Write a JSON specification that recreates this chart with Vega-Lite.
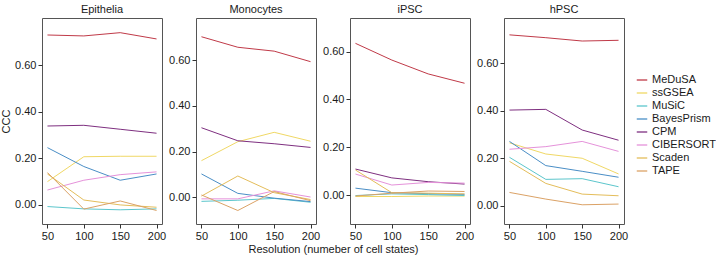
{
  "$schema": "https://vega.github.io/schema/vega-lite/v6.json",
  "padding": {"left": 0, "top": 2, "right": 0, "bottom": 0},
  "datasets": {
    "strips": [{"panel": "Epithelia"}, {"panel": "Monocytes"}, {"panel": "iPSC"}, {"panel": "hPSC"}],
    "ccc": [
      {"panel": "Epithelia", "method": "MeDuSA", "resolution": 50, "ccc": 0.730},
      {"panel": "Epithelia", "method": "MeDuSA", "resolution": 100, "ccc": 0.726},
      {"panel": "Epithelia", "method": "MeDuSA", "resolution": 150, "ccc": 0.740},
      {"panel": "Epithelia", "method": "MeDuSA", "resolution": 200, "ccc": 0.713},
      {"panel": "Epithelia", "method": "ssGSEA", "resolution": 50, "ccc": 0.100},
      {"panel": "Epithelia", "method": "ssGSEA", "resolution": 100, "ccc": 0.207},
      {"panel": "Epithelia", "method": "ssGSEA", "resolution": 150, "ccc": 0.209},
      {"panel": "Epithelia", "method": "ssGSEA", "resolution": 200, "ccc": 0.209},
      {"panel": "Epithelia", "method": "MuSiC", "resolution": 50, "ccc": -0.007},
      {"panel": "Epithelia", "method": "MuSiC", "resolution": 100, "ccc": -0.017},
      {"panel": "Epithelia", "method": "MuSiC", "resolution": 150, "ccc": -0.021},
      {"panel": "Epithelia", "method": "MuSiC", "resolution": 200, "ccc": -0.017},
      {"panel": "Epithelia", "method": "BayesPrism", "resolution": 50, "ccc": 0.246},
      {"panel": "Epithelia", "method": "BayesPrism", "resolution": 100, "ccc": 0.165},
      {"panel": "Epithelia", "method": "BayesPrism", "resolution": 150, "ccc": 0.106},
      {"panel": "Epithelia", "method": "BayesPrism", "resolution": 200, "ccc": 0.133},
      {"panel": "Epithelia", "method": "CPM", "resolution": 50, "ccc": 0.339},
      {"panel": "Epithelia", "method": "CPM", "resolution": 100, "ccc": 0.342},
      {"panel": "Epithelia", "method": "CPM", "resolution": 150, "ccc": 0.325},
      {"panel": "Epithelia", "method": "CPM", "resolution": 200, "ccc": 0.308},
      {"panel": "Epithelia", "method": "CIBERSORT", "resolution": 50, "ccc": 0.064},
      {"panel": "Epithelia", "method": "CIBERSORT", "resolution": 100, "ccc": 0.106},
      {"panel": "Epithelia", "method": "CIBERSORT", "resolution": 150, "ccc": 0.130},
      {"panel": "Epithelia", "method": "CIBERSORT", "resolution": 200, "ccc": 0.142},
      {"panel": "Epithelia", "method": "Scaden", "resolution": 50, "ccc": 0.133},
      {"panel": "Epithelia", "method": "Scaden", "resolution": 100, "ccc": 0.021},
      {"panel": "Epithelia", "method": "Scaden", "resolution": 150, "ccc": 0.000},
      {"panel": "Epithelia", "method": "Scaden", "resolution": 200, "ccc": -0.010},
      {"panel": "Epithelia", "method": "TAPE", "resolution": 50, "ccc": 0.139},
      {"panel": "Epithelia", "method": "TAPE", "resolution": 100, "ccc": -0.018},
      {"panel": "Epithelia", "method": "TAPE", "resolution": 150, "ccc": 0.017},
      {"panel": "Epithelia", "method": "TAPE", "resolution": 200, "ccc": -0.024},
      {"panel": "Monocytes", "method": "MeDuSA", "resolution": 50, "ccc": 0.702},
      {"panel": "Monocytes", "method": "MeDuSA", "resolution": 100, "ccc": 0.656},
      {"panel": "Monocytes", "method": "MeDuSA", "resolution": 150, "ccc": 0.639},
      {"panel": "Monocytes", "method": "MeDuSA", "resolution": 200, "ccc": 0.593},
      {"panel": "Monocytes", "method": "ssGSEA", "resolution": 50, "ccc": 0.160},
      {"panel": "Monocytes", "method": "ssGSEA", "resolution": 100, "ccc": 0.243},
      {"panel": "Monocytes", "method": "ssGSEA", "resolution": 150, "ccc": 0.284},
      {"panel": "Monocytes", "method": "ssGSEA", "resolution": 200, "ccc": 0.245},
      {"panel": "Monocytes", "method": "MuSiC", "resolution": 50, "ccc": -0.018},
      {"panel": "Monocytes", "method": "MuSiC", "resolution": 100, "ccc": -0.013},
      {"panel": "Monocytes", "method": "MuSiC", "resolution": 150, "ccc": -0.005},
      {"panel": "Monocytes", "method": "MuSiC", "resolution": 200, "ccc": -0.022},
      {"panel": "Monocytes", "method": "BayesPrism", "resolution": 50, "ccc": 0.102},
      {"panel": "Monocytes", "method": "BayesPrism", "resolution": 100, "ccc": 0.017},
      {"panel": "Monocytes", "method": "BayesPrism", "resolution": 150, "ccc": -0.004},
      {"panel": "Monocytes", "method": "BayesPrism", "resolution": 200, "ccc": -0.019},
      {"panel": "Monocytes", "method": "CPM", "resolution": 50, "ccc": 0.304},
      {"panel": "Monocytes", "method": "CPM", "resolution": 100, "ccc": 0.247},
      {"panel": "Monocytes", "method": "CPM", "resolution": 150, "ccc": 0.234},
      {"panel": "Monocytes", "method": "CPM", "resolution": 200, "ccc": 0.218},
      {"panel": "Monocytes", "method": "CIBERSORT", "resolution": 50, "ccc": -0.007},
      {"panel": "Monocytes", "method": "CIBERSORT", "resolution": 100, "ccc": -0.007},
      {"panel": "Monocytes", "method": "CIBERSORT", "resolution": 150, "ccc": 0.028},
      {"panel": "Monocytes", "method": "CIBERSORT", "resolution": 200, "ccc": 0.001},
      {"panel": "Monocytes", "method": "Scaden", "resolution": 50, "ccc": 0.005},
      {"panel": "Monocytes", "method": "Scaden", "resolution": 100, "ccc": 0.093},
      {"panel": "Monocytes", "method": "Scaden", "resolution": 150, "ccc": 0.020},
      {"panel": "Monocytes", "method": "Scaden", "resolution": 200, "ccc": -0.010},
      {"panel": "Monocytes", "method": "TAPE", "resolution": 50, "ccc": 0.010},
      {"panel": "Monocytes", "method": "TAPE", "resolution": 100, "ccc": -0.058},
      {"panel": "Monocytes", "method": "TAPE", "resolution": 150, "ccc": 0.025},
      {"panel": "Monocytes", "method": "TAPE", "resolution": 200, "ccc": -0.015},
      {"panel": "iPSC", "method": "MeDuSA", "resolution": 50, "ccc": 0.635},
      {"panel": "iPSC", "method": "MeDuSA", "resolution": 100, "ccc": 0.565},
      {"panel": "iPSC", "method": "MeDuSA", "resolution": 150, "ccc": 0.507},
      {"panel": "iPSC", "method": "MeDuSA", "resolution": 200, "ccc": 0.468},
      {"panel": "iPSC", "method": "ssGSEA", "resolution": 50, "ccc": -0.006},
      {"panel": "iPSC", "method": "ssGSEA", "resolution": 100, "ccc": -0.006},
      {"panel": "iPSC", "method": "ssGSEA", "resolution": 150, "ccc": -0.004},
      {"panel": "iPSC", "method": "ssGSEA", "resolution": 200, "ccc": -0.004},
      {"panel": "iPSC", "method": "MuSiC", "resolution": 50, "ccc": -0.002},
      {"panel": "iPSC", "method": "MuSiC", "resolution": 100, "ccc": 0.005},
      {"panel": "iPSC", "method": "MuSiC", "resolution": 150, "ccc": 0.002},
      {"panel": "iPSC", "method": "MuSiC", "resolution": 200, "ccc": -0.002},
      {"panel": "iPSC", "method": "BayesPrism", "resolution": 50, "ccc": 0.029},
      {"panel": "iPSC", "method": "BayesPrism", "resolution": 100, "ccc": 0.010},
      {"panel": "iPSC", "method": "BayesPrism", "resolution": 150, "ccc": 0.006},
      {"panel": "iPSC", "method": "BayesPrism", "resolution": 200, "ccc": 0.003},
      {"panel": "iPSC", "method": "CPM", "resolution": 50, "ccc": 0.109},
      {"panel": "iPSC", "method": "CPM", "resolution": 100, "ccc": 0.072},
      {"panel": "iPSC", "method": "CPM", "resolution": 150, "ccc": 0.056},
      {"panel": "iPSC", "method": "CPM", "resolution": 200, "ccc": 0.046},
      {"panel": "iPSC", "method": "CIBERSORT", "resolution": 50, "ccc": 0.088},
      {"panel": "iPSC", "method": "CIBERSORT", "resolution": 100, "ccc": 0.042},
      {"panel": "iPSC", "method": "CIBERSORT", "resolution": 150, "ccc": 0.053},
      {"panel": "iPSC", "method": "CIBERSORT", "resolution": 200, "ccc": 0.050},
      {"panel": "iPSC", "method": "Scaden", "resolution": 50, "ccc": 0.105},
      {"panel": "iPSC", "method": "Scaden", "resolution": 100, "ccc": 0.010},
      {"panel": "iPSC", "method": "Scaden", "resolution": 150, "ccc": 0.008},
      {"panel": "iPSC", "method": "Scaden", "resolution": 200, "ccc": 0.005},
      {"panel": "iPSC", "method": "TAPE", "resolution": 50, "ccc": -0.004},
      {"panel": "iPSC", "method": "TAPE", "resolution": 100, "ccc": 0.008},
      {"panel": "iPSC", "method": "TAPE", "resolution": 150, "ccc": 0.017},
      {"panel": "iPSC", "method": "TAPE", "resolution": 200, "ccc": 0.015},
      {"panel": "hPSC", "method": "MeDuSA", "resolution": 50, "ccc": 0.720},
      {"panel": "hPSC", "method": "MeDuSA", "resolution": 100, "ccc": 0.708},
      {"panel": "hPSC", "method": "MeDuSA", "resolution": 150, "ccc": 0.694},
      {"panel": "hPSC", "method": "MeDuSA", "resolution": 200, "ccc": 0.697},
      {"panel": "hPSC", "method": "ssGSEA", "resolution": 50, "ccc": 0.265},
      {"panel": "hPSC", "method": "ssGSEA", "resolution": 100, "ccc": 0.218},
      {"panel": "hPSC", "method": "ssGSEA", "resolution": 150, "ccc": 0.200},
      {"panel": "hPSC", "method": "ssGSEA", "resolution": 200, "ccc": 0.134},
      {"panel": "hPSC", "method": "MuSiC", "resolution": 50, "ccc": 0.204},
      {"panel": "hPSC", "method": "MuSiC", "resolution": 100, "ccc": 0.111},
      {"panel": "hPSC", "method": "MuSiC", "resolution": 150, "ccc": 0.114},
      {"panel": "hPSC", "method": "MuSiC", "resolution": 200, "ccc": 0.080},
      {"panel": "hPSC", "method": "BayesPrism", "resolution": 50, "ccc": 0.271},
      {"panel": "hPSC", "method": "BayesPrism", "resolution": 100, "ccc": 0.169},
      {"panel": "hPSC", "method": "BayesPrism", "resolution": 150, "ccc": 0.145},
      {"panel": "hPSC", "method": "BayesPrism", "resolution": 200, "ccc": 0.120},
      {"panel": "hPSC", "method": "CPM", "resolution": 50, "ccc": 0.403},
      {"panel": "hPSC", "method": "CPM", "resolution": 100, "ccc": 0.406},
      {"panel": "hPSC", "method": "CPM", "resolution": 150, "ccc": 0.319},
      {"panel": "hPSC", "method": "CPM", "resolution": 200, "ccc": 0.276},
      {"panel": "hPSC", "method": "CIBERSORT", "resolution": 50, "ccc": 0.238},
      {"panel": "hPSC", "method": "CIBERSORT", "resolution": 100, "ccc": 0.249},
      {"panel": "hPSC", "method": "CIBERSORT", "resolution": 150, "ccc": 0.271},
      {"panel": "hPSC", "method": "CIBERSORT", "resolution": 200, "ccc": 0.229},
      {"panel": "hPSC", "method": "Scaden", "resolution": 50, "ccc": 0.187},
      {"panel": "hPSC", "method": "Scaden", "resolution": 100, "ccc": 0.094},
      {"panel": "hPSC", "method": "Scaden", "resolution": 150, "ccc": 0.049},
      {"panel": "hPSC", "method": "Scaden", "resolution": 200, "ccc": 0.042},
      {"panel": "hPSC", "method": "TAPE", "resolution": 50, "ccc": 0.056},
      {"panel": "hPSC", "method": "TAPE", "resolution": 100, "ccc": 0.028},
      {"panel": "hPSC", "method": "TAPE", "resolution": 150, "ccc": 0.004},
      {"panel": "hPSC", "method": "TAPE", "resolution": 200, "ccc": 0.007}
    ]
  },
  "bounds": "flush",
  "columns": 4,
  "spacing": {"row": 0, "column": 34},
  "concat": [
    {"width": 120, "height": 16, "data": {"name": "strips"}, "transform": [{"filter": "datum.panel === 'Epithelia'"}],
     "mark": {"type": "text", "fontSize": 11, "color": "#1a1a1a"}, "encoding": {"text": {"field": "panel"}}},
    {"width": 120, "height": 16, "data": {"name": "strips"}, "transform": [{"filter": "datum.panel === 'Monocytes'"}],
     "mark": {"type": "text", "fontSize": 11, "color": "#1a1a1a"}, "encoding": {"text": {"field": "panel"}}},
    {"width": 120, "height": 16, "data": {"name": "strips"}, "transform": [{"filter": "datum.panel === 'iPSC'"}],
     "mark": {"type": "text", "fontSize": 11, "color": "#1a1a1a"}, "encoding": {"text": {"field": "panel"}}},
    {"width": 120, "height": 16, "data": {"name": "strips"}, "transform": [{"filter": "datum.panel === 'hPSC'"}],
     "mark": {"type": "text", "fontSize": 11, "color": "#1a1a1a"}, "encoding": {"text": {"field": "panel"}}},
    {"width": 120, "height": 206, "data": {"name": "ccc"}, "transform": [{"filter": "datum.panel === 'Epithelia'"}],
     "mark": {"type": "line", "strokeWidth": 1},
     "encoding": {
       "x": {"field": "resolution", "type": "quantitative", "scale": {"domain": [42.5, 207.5], "nice": false, "zero": false}, "axis": {"values": [50, 100, 150, 200], "title": null}},
       "y": {"field": "ccc", "type": "quantitative", "scale": {"domain": [-0.082, 0.803], "nice": false, "zero": false}, "axis": {"values": [0, 0.2, 0.4, 0.6], "format": ".2f", "title": "CCC", "titlePadding": 3}},
       "color": {"field": "method", "type": "nominal",
         "scale": {"domain": ["MeDuSA", "ssGSEA", "MuSiC", "BayesPrism", "CPM", "CIBERSORT", "Scaden", "TAPE"],
                   "range": ["#c03a48", "#f0d865", "#5cc6cc", "#4a8ec6", "#7e2f80", "#e592da", "#e4bd5a", "#dba266"]},
         "legend": {"orient": "none", "legendX": 594, "legendY": 72, "title": null}}
     }},
    {"width": 120, "height": 206, "data": {"name": "ccc"}, "transform": [{"filter": "datum.panel === 'Monocytes'"}],
     "mark": {"type": "line", "strokeWidth": 1},
     "encoding": {
       "x": {"field": "resolution", "type": "quantitative", "scale": {"domain": [42.5, 207.5], "nice": false, "zero": false}, "axis": {"values": [50, 100, 150, 200], "title": "Resolution (numeber of cell states)", "titleX": 137, "titlePadding": 2}},
       "y": {"field": "ccc", "type": "quantitative", "scale": {"domain": [-0.117, 0.784], "nice": false, "zero": false}, "axis": {"values": [0, 0.2, 0.4, 0.6], "format": ".2f", "title": null}},
       "color": {"field": "method", "type": "nominal"}
     }},
    {"width": 120, "height": 206, "data": {"name": "ccc"}, "transform": [{"filter": "datum.panel === 'iPSC'"}],
     "mark": {"type": "line", "strokeWidth": 1},
     "encoding": {
       "x": {"field": "resolution", "type": "quantitative", "scale": {"domain": [42.5, 207.5], "nice": false, "zero": false}, "axis": {"values": [50, 100, 150, 200], "title": null}},
       "y": {"field": "ccc", "type": "quantitative", "scale": {"domain": [-0.121, 0.741], "nice": false, "zero": false}, "axis": {"values": [0, 0.2, 0.4, 0.6], "format": ".2f", "title": null}},
       "color": {"field": "method", "type": "nominal"}
     }},
    {"width": 120, "height": 206, "data": {"name": "ccc"}, "transform": [{"filter": "datum.panel === 'hPSC'"}],
     "mark": {"type": "line", "strokeWidth": 1},
     "encoding": {
       "x": {"field": "resolution", "type": "quantitative", "scale": {"domain": [42.5, 207.5], "nice": false, "zero": false}, "axis": {"values": [50, 100, 150, 200], "title": null}},
       "y": {"field": "ccc", "type": "quantitative", "scale": {"domain": [-0.077, 0.791], "nice": false, "zero": false}, "axis": {"values": [0, 0.2, 0.4, 0.6], "format": ".2f", "title": null}},
       "color": {"field": "method", "type": "nominal"}
     }}
  ],
  "config": {
    "font": "Liberation Sans",
    "background": "#ffffff",
    "view": {"stroke": "#555555", "strokeWidth": 1, "fill": "#ffffff"},
    "axis": {"domain": false, "grid": false, "tickColor": "#333333", "tickSize": 4, "labelColor": "#1a1a1a", "labelFontSize": 11, "labelPadding": 2, "titleFontSize": 11, "titleFontWeight": "normal", "titleColor": "#1a1a1a"},
    "legend": {"labelFontSize": 11, "labelColor": "#1a1a1a", "symbolType": "stroke", "symbolStrokeWidth": 1.3, "symbolSize": 110, "rowPadding": 2, "labelOffset": 4}
  }
}
